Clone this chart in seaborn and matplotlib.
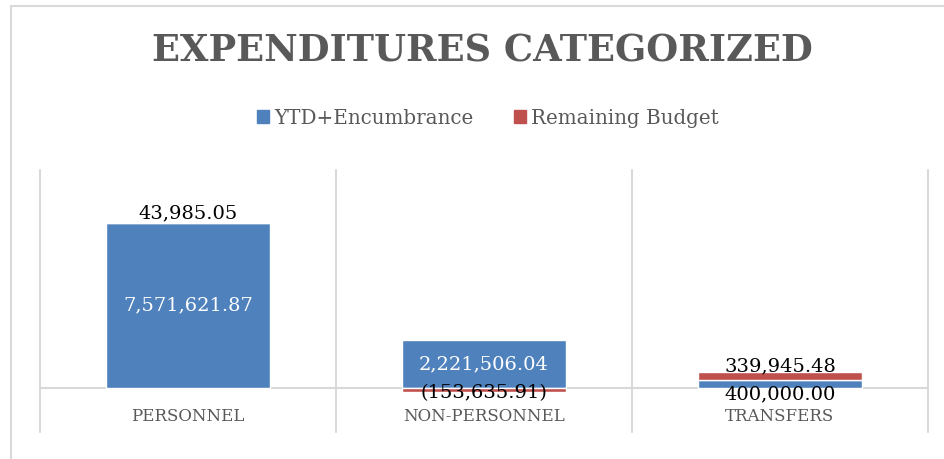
import numpy as np
import pandas as pd
import matplotlib
matplotlib.use('Agg')
import matplotlib.pyplot as plt
import matplotlib.patches as mpatches
import seaborn as sns

# chart data
categories = ['PERSONNEL', 'NON-PERSONNEL', 'TRANSFERS']
ytd_encumbrance = [7571621.87, 2221506.04, 400000.00]
remaining_budget = [43985.05, -153635.91, 339945.48]
series_names = ['YTD+Encumbrance', 'Remaining Budget']

blue = '#4F81BD'
red = '#C0504D'
grey_text = '#595959'
grid_col = '#D9D9D9'

sns.set_theme(style='white')
plt.rcParams['font.family'] = ['DejaVu Serif']

df = pd.DataFrame({'category': categories,
                   'ytd': ytd_encumbrance,
                   'remaining': remaining_budget})
# Excel stacks negative values downward from zero
df['bottom'] = np.where(df['remaining'] >= 0, df['ytd'], 0)

fig = plt.figure(figsize=(9.45, 4.59), dpi=100)
ax = fig.add_axes([40 / 945, 27 / 459, 888 / 945, 262 / 459])

sns.barplot(data=df, x='category', y='ytd', color=blue, width=0.557,
            saturation=1, ax=ax, zorder=3)
ax.bar(np.arange(len(categories)), df['remaining'], bottom=df['bottom'],
       width=0.557, color=red, zorder=3)

ax.set_xlim(-0.5, 2.5)
ax.set_ylim(-2000000, 10000000)
ax.set_yticks([])
ax.set_xlabel('')
ax.set_ylabel('')
for s in ax.spines.values():
    s.set_visible(False)

# category separators and zero line
for xv in np.arange(-0.5, len(categories), 1.0):
    ax.axvline(xv, color=grid_col, lw=1.5, zorder=1, clip_on=False)
ax.axhline(0, color=grid_col, lw=1.5, zorder=1)

ax.tick_params(axis='x', length=0, pad=-17, labelsize=12, labelcolor=grey_text)
ax.set_xticks(range(len(categories)))
ax.set_xticklabels(categories)

# data labels (offsets in pixels, like Excel's nudged labels)
fmt = lambda v: f'({abs(v):,.2f})' if v < 0 else f'{v:,.2f}'
blue_offsets = [0, 0, -10]
blue_colors = ['white', 'white', 'black']
red_offsets = [9, -3, 10]
for i, (b, r, bt) in enumerate(zip(ytd_encumbrance, remaining_budget, df['bottom'])):
    ax.annotate(fmt(b), xy=(i, b / 2), xytext=(0, blue_offsets[i] * 0.72),
                textcoords='offset points', ha='center', va='center',
                fontsize=14, color=blue_colors[i], zorder=5)
    ax.annotate(fmt(r), xy=(i, bt + r / 2), xytext=(0, red_offsets[i] * 0.72),
                textcoords='offset points', ha='center', va='center',
                fontsize=14, color='black', zorder=5)

# title and legend
fig.text(482 / 945, 1 - 52 / 459, 'EXPENDITURES CATEGORIZED', ha='center',
         va='center', fontsize=26.5, fontweight='bold', color=grey_text)
handles = [mpatches.Patch(color=blue, label=series_names[0]),
           mpatches.Patch(color=red, label=series_names[1])]
fig.legend(handles=handles, loc='center', bbox_to_anchor=(488 / 945, 1 - 118 / 459),
           ncol=2, frameon=False, fontsize=14.3, labelcolor=grey_text,
           handlelength=0.6, handleheight=0.6, handletextpad=0.3, columnspacing=2.0)

# chart area border (right and bottom edges fall outside the image)
fig.patches.append(mpatches.Rectangle((10.5 / 945, -0.1), 1.2, 1.1 - 6.5 / 459,
                                      transform=fig.transFigure, fill=False,
                                      edgecolor=grid_col, lw=1.5))

fig.savefig('out.png', dpi=100)
